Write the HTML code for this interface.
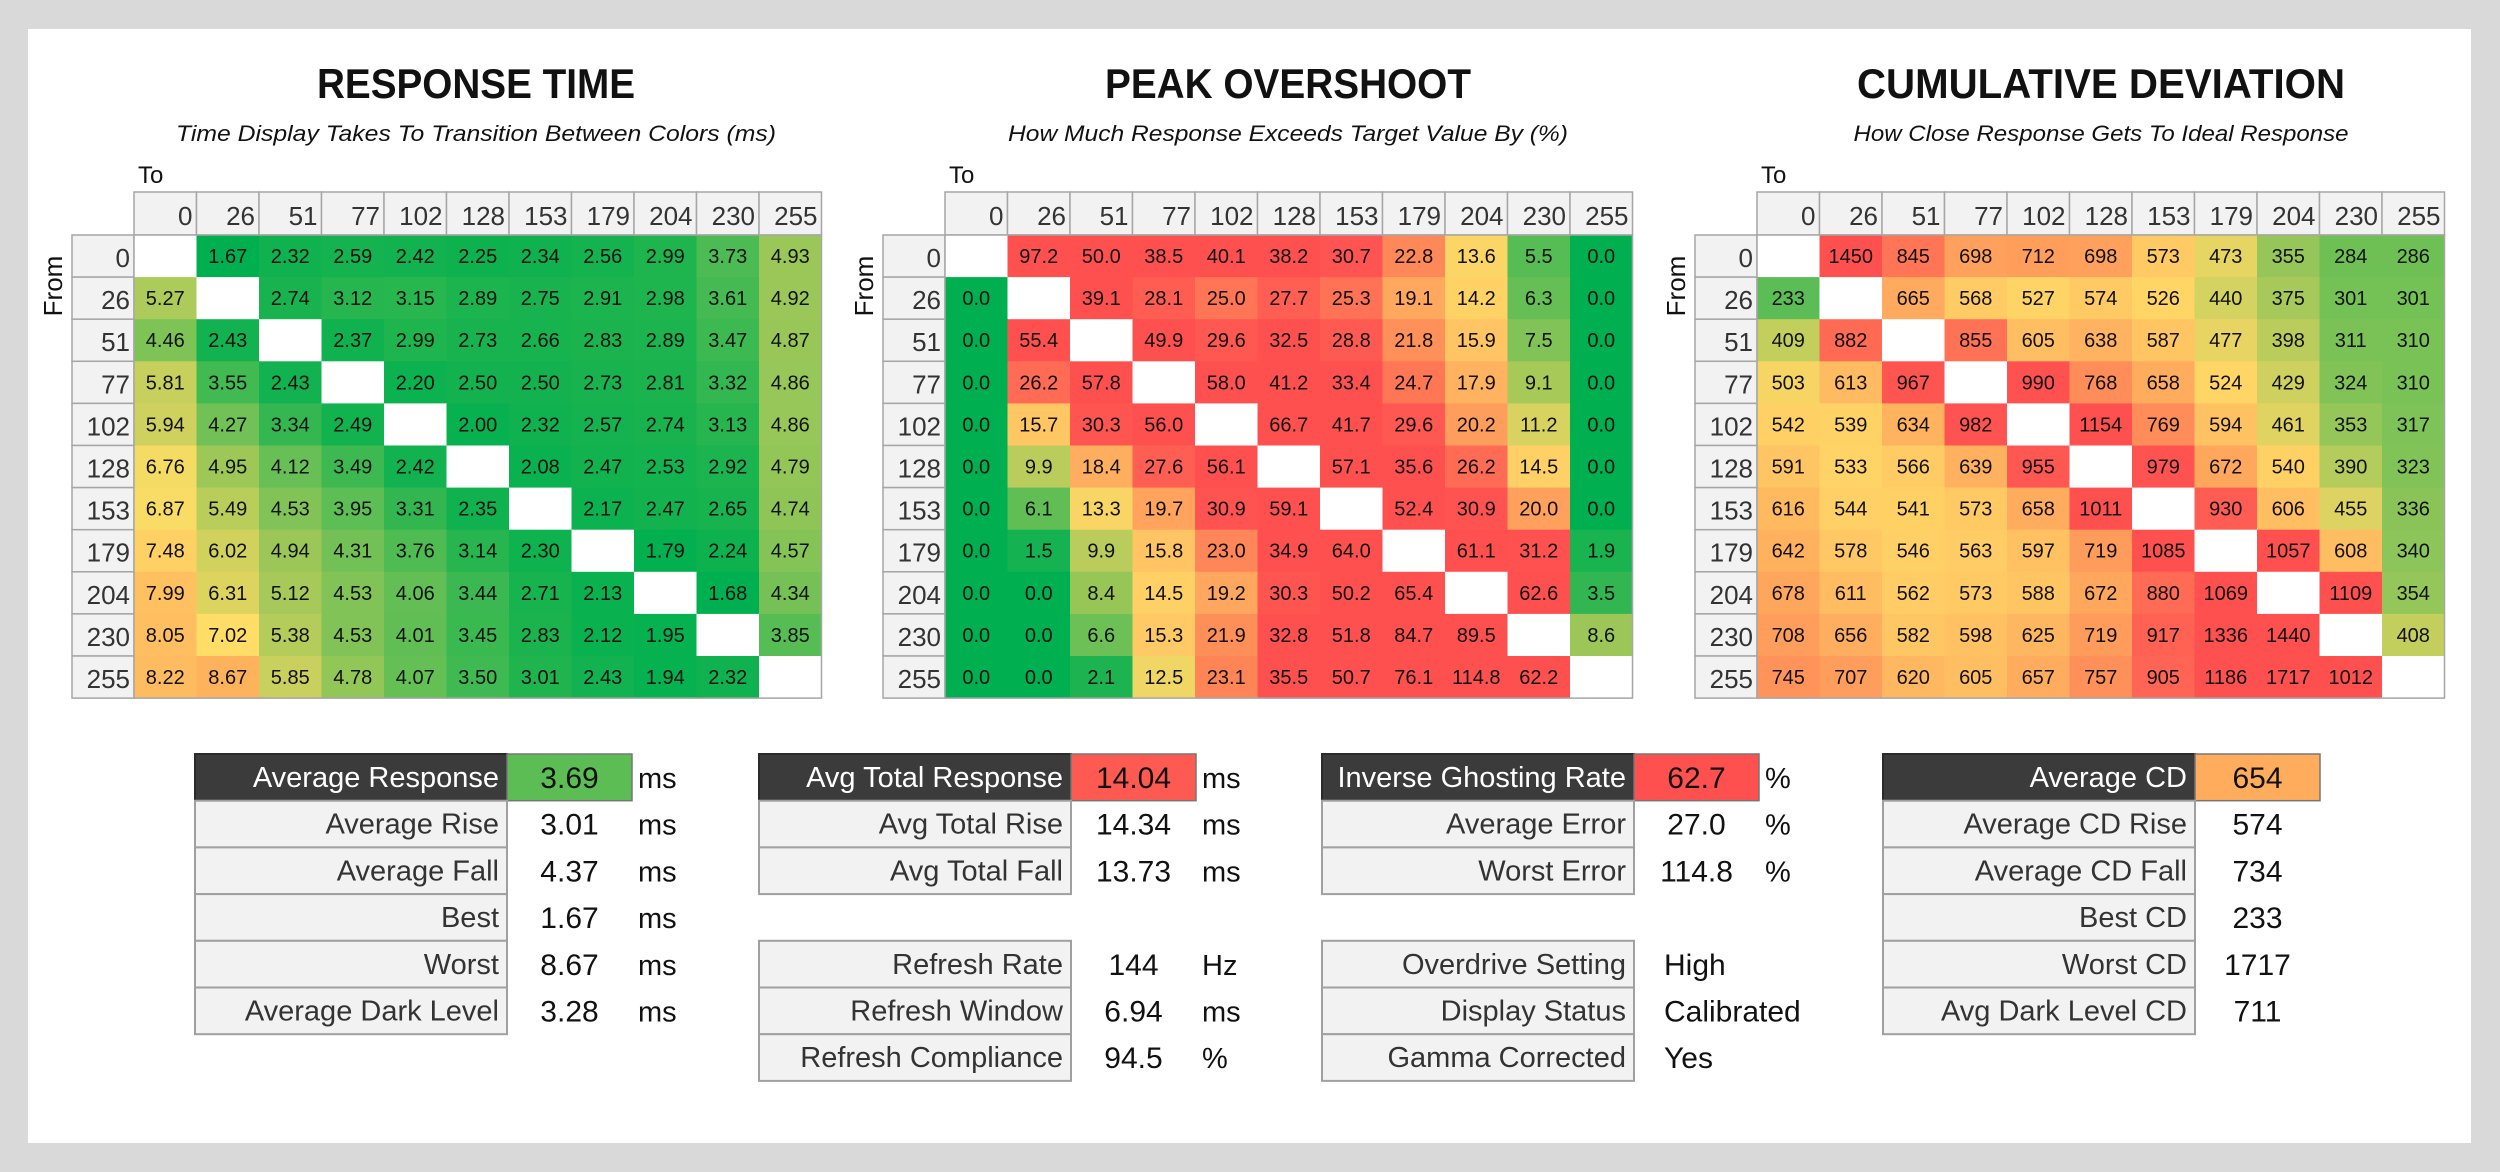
<!DOCTYPE html>
<html><head><meta charset="utf-8">
<style>
html,body{margin:0;padding:0;background:#d9d9d9;}
svg{display:block;}
text{font-family:"Liberation Sans",sans-serif;}
</style></head>
<body>
<svg id="s" width="2500" height="1172" viewBox="0 0 2500 1172" xmlns="http://www.w3.org/2000/svg">
<rect x="0" y="0" width="2500" height="1172" fill="#d9d9d9"/>
<rect x="28" y="29" width="2443" height="1114" fill="#ffffff"/>
</svg>
<script>
// ---- data ----
const levels = [0,26,51,77,102,128,153,179,204,230,255];
const rtValues = [
[null,1.67,2.32,2.59,2.42,2.25,2.34,2.56,2.99,3.73,4.93],
[5.27,null,2.74,3.12,3.15,2.89,2.75,2.91,2.98,3.61,4.92],
[4.46,2.43,null,2.37,2.99,2.73,2.66,2.83,2.89,3.47,4.87],
[5.81,3.55,2.43,null,2.20,2.50,2.50,2.73,2.81,3.32,4.86],
[5.94,4.27,3.34,2.49,null,2.00,2.32,2.57,2.74,3.13,4.86],
[6.76,4.95,4.12,3.49,2.42,null,2.08,2.47,2.53,2.92,4.79],
[6.87,5.49,4.53,3.95,3.31,2.35,null,2.17,2.47,2.65,4.74],
[7.48,6.02,4.94,4.31,3.76,3.14,2.30,null,1.79,2.24,4.57],
[7.99,6.31,5.12,4.53,4.06,3.44,2.71,2.13,null,1.68,4.34],
[8.05,7.02,5.38,4.53,4.01,3.45,2.83,2.12,1.95,null,3.85],
[8.22,8.67,5.85,4.78,4.07,3.50,3.01,2.43,1.94,2.32,null]];
const osValues = [
[null,97.2,50.0,38.5,40.1,38.2,30.7,22.8,13.6,5.5,0.0],
[0.0,null,39.1,28.1,25.0,27.7,25.3,19.1,14.2,6.3,0.0],
[0.0,55.4,null,49.9,29.6,32.5,28.8,21.8,15.9,7.5,0.0],
[0.0,26.2,57.8,null,58.0,41.2,33.4,24.7,17.9,9.1,0.0],
[0.0,15.7,30.3,56.0,null,66.7,41.7,29.6,20.2,11.2,0.0],
[0.0,9.9,18.4,27.6,56.1,null,57.1,35.6,26.2,14.5,0.0],
[0.0,6.1,13.3,19.7,30.9,59.1,null,52.4,30.9,20.0,0.0],
[0.0,1.5,9.9,15.8,23.0,34.9,64.0,null,61.1,31.2,1.9],
[0.0,0.0,8.4,14.5,19.2,30.3,50.2,65.4,null,62.6,3.5],
[0.0,0.0,6.6,15.3,21.9,32.8,51.8,84.7,89.5,null,8.6],
[0.0,0.0,2.1,12.5,23.1,35.5,50.7,76.1,114.8,62.2,null]];
const cdValues = [
[null,1450,845,698,712,698,573,473,355,284,286],
[233,null,665,568,527,574,526,440,375,301,301],
[409,882,null,855,605,638,587,477,398,311,310],
[503,613,967,null,990,768,658,524,429,324,310],
[542,539,634,982,null,1154,769,594,461,353,317],
[591,533,566,639,955,null,979,672,540,390,323],
[616,544,541,573,658,1011,null,930,606,455,336],
[642,578,546,563,597,719,1085,null,1057,608,340],
[678,611,562,573,588,672,880,1069,null,1109,354],
[708,656,582,598,625,719,917,1336,1440,null,408],
[745,707,620,605,657,757,905,1186,1717,1012,null]];
const rtStatLabels = ["Average Response","Average Rise","Average Fall","Best","Worst","Average Dark Level"];
const rtStatValues = ["3.69","3.01","4.37","1.67","8.67","3.28"];
const osStatLabels = ["Avg Total Response","Avg Total Rise","Avg Total Fall","","Refresh Rate","Refresh Window","Refresh Compliance"];
const osStatValues = ["14.04","14.34","13.73","","144","6.94","94.5"];
const osStatUnits = ["ms","ms","ms","","Hz","ms","%"];
const igStatLabels = ["Inverse Ghosting Rate","Average Error","Worst Error","","Overdrive Setting","Display Status","Gamma Corrected"];
const igStatValues = ["62.7","27.0","114.8","","High","Calibrated","Yes"];
const igStatUnits = ["%","%","%","","","",""];
const cdStatLabels = ["Average CD","Average CD Rise","Average CD Fall","Best CD","Worst CD","Avg Dark Level CD"];
const cdStatValues = ["654","574","734","233","1717","711"];

// ---- colour scales (style) ----
const rtStops = [[1.67,[0,176,80]],[3.0,[30,180,78]],[4.0,[95,190,85]],[5.0,[160,200,88]],[5.8,[200,208,93]],[6.3,[220,212,96]],[7.0,[255,222,102]],[8.0,[255,192,96]],[8.67,[255,178,92]]];
const osStops = [[0,[0,176,80]],[3,[40,180,80]],[6,[95,190,85]],[9,[165,200,88]],[12,[235,215,100]],[14,[255,212,102]],[16,[255,195,100]],[20,[255,160,92]],[24,[255,125,86]],[28,[255,92,82]],[32,[255,80,80]]];
const cdStops = [[233,[92,188,85]],[300,[115,193,85]],[355,[150,198,90]],[410,[196,207,93]],[470,[228,212,99]],[520,[255,214,102]],[580,[255,200,100]],[630,[255,180,95]],[700,[255,160,92]],[770,[255,140,89]],[860,[255,112,85]],[950,[255,88,82]],[1000,[255,80,80]]];

const NS="http://www.w3.org/2000/svg";
const svg=document.getElementById('s');
function el(tag,attrs,parent){const e=document.createElementNS(NS,tag);for(const k in attrs)e.setAttribute(k,attrs[k]);(parent||svg).appendChild(e);return e;}
function colorOf(v,stops){
  if(v<=stops[0][0])return rgb(stops[0][1]);
  for(let i=1;i<stops.length;i++){if(v<=stops[i][0]){const a=stops[i-1],b=stops[i];const t=(v-a[0])/(b[0]-a[0]);return rgb(a[1].map((c,j)=>c+(b[1][j]-c)*t));}}
  return rgb(stops[stops.length-1][1]);
}
function rgb(c){return 'rgb('+c.map(x=>Math.round(x)).join(',')+')';}

function heatmap(key,x0,data,fmt,stops,title,sub,titleCx,titleW,subW){
  const g=el('g',{});
  
  
  const t=el('text',{x:titleCx,y:98,'text-anchor':'middle','font-size':42,'font-weight':'bold',fill:'#111',textLength:titleW,lengthAdjust:'spacingAndGlyphs'},g);
  t.textContent=title;
  
  
  const st=el('text',{x:titleCx,y:141,'text-anchor':'middle','font-size':22,'font-style':'italic',fill:'#111',textLength:subW,lengthAdjust:'spacingAndGlyphs'},g);
  st.textContent=sub;
  
  
  const cw=62.5, rh=42.1, hy=192, hh=43, y0=235, rhx=x0-62;
  const to=el('text',{x:x0+4,y:183,'font-size':24,fill:'#111'},g);
  to.textContent='To';
  
  
  const fr=el('text',{x:0,y:0,'font-size':26,fill:'#111','text-anchor':'middle',transform:'translate('+(rhx-10)+',286) rotate(-90)'},g);
  fr.textContent='From';
  
  
  levels.forEach((lv,j)=>{
    const x=x0+j*cw;
    const r=el('rect',{x:x,y:hy,width:cw,height:hh,fill:'#f2f2f2',stroke:'#a6a6a6','stroke-width':1.5},g);
    
    
    const tx=el('text',{x:x+cw-4,y:hy+33,'text-anchor':'end','font-size':26,fill:'#333'},g);
    tx.textContent=lv;
    
    
  });
  levels.forEach((lv,i)=>{
    const y=y0+i*rh;
    const r=el('rect',{x:rhx,y:y,width:62,height:rh,fill:'#f2f2f2',stroke:'#a6a6a6','stroke-width':1.5},g);
    
    
    const tx=el('text',{x:rhx+58,y:y+32,'text-anchor':'end','font-size':26,fill:'#333'},g);
    tx.textContent=lv;
    
    
    data[i].forEach((v,j)=>{
      const x=x0+j*cw;
      const c=el('rect',{x:x,y:y,width:cw+0.5,height:rh+0.5,fill:v===null?'#ffffff':colorOf(v,stops)},g);
      
      
      if(v!==null){
        const tv=el('text',{x:x+cw/2,y:y+28,'text-anchor':'middle','font-size':20,fill:'#111'},g);
        tv.textContent=fmt(v);
        
        
      }
    });
  });
  const b=el('rect',{x:x0,y:y0,width:cw*11,height:rh*11,fill:'none',stroke:'#a6a6a6','stroke-width':1.5},g);
  
  
}
heatmap('response-time',134,rtValues,v=>v.toFixed(2),rtStops,'RESPONSE TIME','Time Display Takes To Transition Between Colors (ms)',476,318,600);
heatmap('peak-overshoot',945,osValues,v=>v.toFixed(1),osStops,'PEAK OVERSHOOT','How Much Response Exceeds Target Value By (%)',1288,366,560);
heatmap('cumulative-deviation',1757,cdValues,v=>String(v),cdStops,'CUMULATIVE DEVIATION','How Close Response Gets To Ideal Response',2101,488,495);

function statBox(key,x0,labels,values,units,headColor,valueMode){
  const lw=312, vw=125, top=754, rh=46.7;
  const g=el('g',{});
  
  
  labels.forEach((lab,i)=>{
    if(lab==='')return;
    const y=top+i*rh;
    const head=i===0;
    const r=el('rect',{x:x0,y:y,width:lw,height:rh,fill:head?'#3b3b3b':'#f2f2f2',stroke:head?'#2a2a2a':'#a0a0a0','stroke-width':2},g);
    
    
    const t=el('text',{x:x0+lw-8,y:y+33,'text-anchor':'end','font-size':29,fill:head?'#ffffff':'#333'},g);
    t.textContent=lab;
    
    
    const len=t.getComputedTextLength();
    if(len>lw-14){t.setAttribute('textLength',lw-14);t.setAttribute('lengthAdjust','spacingAndGlyphs');}
    if(head){
      const vr=el('rect',{x:x0+lw,y:y,width:vw,height:rh,fill:headColor,stroke:'#777','stroke-width':1.5},g);
      
      
    }
    const leftAlign=valueMode==='left'&&i>=4;
    const v=el('text',{x:leftAlign?x0+lw+30:x0+lw+vw/2,y:y+34,'text-anchor':leftAlign?'start':'middle','font-size':30,fill:'#111'},g);
    v.textContent=values[i];
    
    
    if(units&&units[i]){
      const u=el('text',{x:x0+lw+vw+6,y:y+34,'font-size':29,fill:'#111'},g);
      u.textContent=units[i];
      
      
    }
  });
}
statBox('response-time',195,rtStatLabels,rtStatValues,["ms","ms","ms","ms","ms","ms"],'#5cbd55');
statBox('overshoot',759,osStatLabels,osStatValues,osStatUnits,'#ff5a52');
statBox('inverse-ghosting',1322,igStatLabels,igStatValues,igStatUnits,'#ff5050','left');
statBox('cumulative-deviation',1883,cdStatLabels,cdStatValues,null,'#ffad5c');
</script>
</body></html>
